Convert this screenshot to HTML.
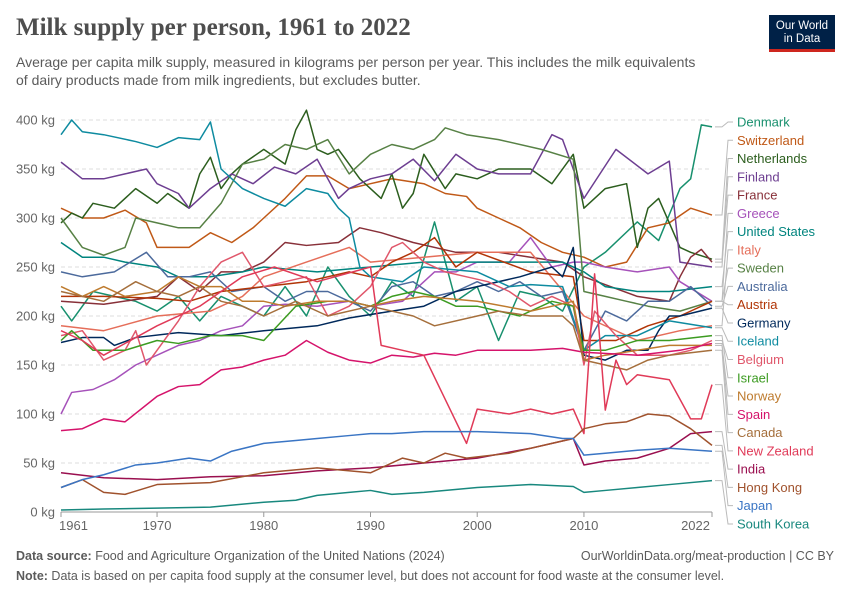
<!DOCTYPE html>
<html><head><meta charset="utf-8"><style>
body{margin:0;background:#fff;font-family:"Liberation Sans",sans-serif;}
#wrap{position:relative;width:850px;height:600px;overflow:hidden;}
.t{position:absolute;white-space:nowrap;}
</style></head><body>
<div id="wrap">
<div class="t" style="left:16px;top:14px;font-family:'Liberation Serif',serif;font-size:25px;color:#4e4e4e;font-weight:bold;">Milk supply per person, 1961 to 2022</div>
<div class="t" style="left:16px;top:53px;font-size:14px;color:#5b5b5b;line-height:18px;">Average per capita milk supply, measured in kilograms per person per year. This includes the milk equivalents<br>of dairy products made from milk ingredients, but excludes butter.</div>
<div style="position:absolute;left:769px;top:15px;width:66px;height:37px;background:#002147;border-bottom:3px solid #ce261e;box-sizing:border-box;color:#fff;font-size:11.5px;line-height:13px;text-align:center;padding-top:5px;">Our World<br>in Data</div>
<svg id="chart" width="850" height="600" style="position:absolute;left:0;top:0"></svg>
<div class="t" style="left:16px;top:549px;font-size:12.5px;color:#5b5b5b;"><b>Data source:</b> Food and Agriculture Organization of the United Nations (2024)</div>
<div class="t" style="right:16px;top:549px;font-size:12.5px;color:#5b5b5b;">OurWorldinData.org/meat-production | CC BY</div>
<div class="t" style="left:16px;top:569px;font-size:12.5px;color:#5b5b5b;"><b>Note:</b> Data is based on per capita food supply at the consumer level, but does not account for food waste at the consumer level.</div>
</div>
<script>
const yTicks=[0,50,100,150,200,250,300,350,400];
const xTicks=[1961,1970,1980,1990,2000,2010,2022];
const seriesNames=["Denmark","Switzerland","Netherlands","Finland","France","Greece","United States","Italy","Sweden","Australia","Austria","Germany","Iceland","Belgium","Israel","Norway","Spain","Canada","New Zealand","India","Hong Kong","Japan","South Korea"];
const denmark=[[1961,210],[1962,195],[1964,225],[1966,220],[1968,215],[1970,205],[1972,220],[1974,195],[1976,220],[1978,210],[1980,200],[1982,230],[1984,200],[1986,250],[1988,220],[1990,200],[1992,235],[1994,220],[1996,296],[1998,215],[2000,230],[2002,175],[2004,225],[2006,220],[2008,205],[2010,250],[2012,265],[2015,296],[2017,277],[2019,330],[2020,340],[2021,395],[2022,393]];
const switzerland=[[1961,310],[1963,300],[1965,300],[1967,308],[1969,295],[1970,270],[1973,270],[1975,285],[1977,275],[1979,290],[1980,300],[1982,320],[1984,343],[1986,343],[1988,330],[1990,335],[1992,340],[1995,335],[1997,325],[1999,322],[2000,310],[2002,300],[2004,290],[2006,275],[2008,265],[2010,260],[2012,250],[2014,255],[2016,290],[2018,295],[2020,310],[2022,303]];
const netherlands=[[1961,295],[1962,305],[1963,300],[1964,315],[1966,310],[1968,330],[1970,315],[1971,325],[1973,310],[1974,345],[1975,362],[1976,330],[1977,345],[1978,355],[1980,370],[1982,355],[1983,390],[1984,410],[1985,370],[1986,365],[1987,370],[1989,340],[1991,320],[1992,345],[1993,310],[1994,325],[1995,365],[1997,330],[1998,345],[2000,340],[2002,350],[2005,350],[2007,335],[2009,365],[2010,310],[2012,330],[2014,335],[2015,270],[2016,310],[2017,320],[2019,270],[2020,265],[2022,258]];
const finland=[[1961,357],[1963,340],[1965,340],[1967,345],[1969,350],[1970,335],[1972,325],[1973,310],[1975,330],[1977,345],[1979,335],[1981,352],[1983,345],[1985,360],[1987,320],[1988,330],[1990,340],[1992,345],[1994,360],[1996,338],[1998,365],[2000,350],[2002,345],[2005,345],[2007,385],[2008,380],[2010,320],[2013,370],[2016,345],[2018,358],[2019,255],[2022,250]];
const france=[[1961,215],[1965,212],[1970,220],[1972,240],[1974,225],[1976,245],[1978,245],[1980,255],[1982,275],[1984,272],[1987,275],[1989,290],[1991,285],[1994,275],[1998,265],[2002,265],[2005,260],[2008,255],[2010,240],[2015,220],[2018,215],[2019,240],[2020,260],[2021,268],[2022,255]];
const greece=[[1961,100],[1962,122],[1964,125],[1966,135],[1968,150],[1970,160],[1972,170],[1974,175],[1976,185],[1978,190],[1980,210],[1982,212],[1985,210],[1988,215],[1990,210],[1993,215],[1996,245],[1998,245],[2000,255],[2003,255],[2005,280],[2007,250],[2009,255],[2010,255],[2012,250],[2015,245],[2018,250],[2019,235],[2022,215]];
const unitedStates=[[1961,275],[1963,260],[1965,260],[1967,255],[1970,250],[1972,240],[1975,240],[1978,245],[1980,250],[1985,245],[1990,250],[1995,255],[2000,255],[2005,255],[2008,255],[2010,245],[2012,230],[2015,225],[2018,225],[2022,230]];
const italy=[[1961,190],[1965,185],[1970,200],[1975,205],[1978,220],[1980,240],[1984,255],[1988,270],[1990,255],[1995,260],[2000,265],[2005,265],[2010,200],[2015,175],[2019,185],[2022,190]];
const sweden=[[1961,300],[1963,270],[1965,262],[1967,270],[1968,300],[1970,295],[1972,290],[1974,290],[1976,315],[1978,355],[1980,360],[1982,375],[1984,370],[1986,380],[1988,345],[1990,365],[1992,375],[1994,370],[1996,380],[1997,392],[1999,385],[2002,380],[2006,370],[2009,360],[2010,225],[2012,220],[2014,215],[2016,210],[2019,205],[2022,215]];
const australia=[[1961,245],[1963,240],[1966,245],[1969,265],[1971,240],[1973,240],[1975,245],[1977,225],[1980,230],[1982,215],[1984,225],[1986,225],[1988,215],[1990,205],[1992,230],[1994,235],[1996,220],[1998,225],[2000,235],[2002,225],[2004,235],[2006,220],[2008,225],[2010,165],[2012,205],[2014,195],[2016,215],[2018,215],[2020,230],[2022,210]];
const austria=[[1961,220],[1965,220],[1970,218],[1973,215],[1976,225],[1980,230],[1984,235],[1988,245],[1990,240],[1992,255],[1994,265],[1996,280],[1998,250],[2000,265],[2005,245],[2009,240],[2010,175],[2013,175],[2016,190],[2019,200],[2022,215]];
const germany=[[1961,173],[1963,178],[1965,178],[1966,170],[1968,178],[1972,183],[1976,180],[1980,185],[1985,190],[1988,198],[1992,205],[1995,210],[1998,225],[2000,230],[2004,240],[2007,250],[2008,240],[2009,270],[2010,160],[2012,155],[2014,165],[2016,165],[2017,185],[2018,200],[2019,200],[2022,208]];
const iceland=[[1961,385],[1962,400],[1963,388],[1965,385],[1968,378],[1970,372],[1972,382],[1974,380],[1975,398],[1976,350],[1978,330],[1980,320],[1982,312],[1984,330],[1986,325],[1987,310],[1988,300],[1989,250],[1990,240],[1993,235],[1995,250],[2000,245],[2003,230],[2005,232],[2008,230],[2010,165],[2012,180],[2015,180],[2018,195],[2022,188]];
const belgium=[[1961,180],[1963,185],[1965,155],[1967,165],[1968,185],[1969,150],[1971,180],[1972,195],[1974,230],[1976,255],[1978,265],[1980,230],[1982,235],[1984,240],[1986,200],[1988,210],[1990,230],[1992,270],[1993,275],[1995,255],[1997,245],[1999,240],[2001,235],[2003,225],[2005,210],[2007,220],[2009,210],[2010,150],[2011,205],[2013,180],[2015,160],[2018,160],[2020,165],[2022,175]];
const israel=[[1961,175],[1962,185],[1964,165],[1967,165],[1970,175],[1972,172],[1975,180],[1978,180],[1980,175],[1983,210],[1986,215],[1988,215],[1990,210],[1992,220],[1994,225],[1996,220],[1998,210],[2000,210],[2004,200],[2007,215],[2009,210],[2010,165],[2012,165],[2015,175],[2018,175],[2022,180]];
const norway=[[1961,230],[1963,220],[1965,230],[1967,220],[1970,225],[1972,240],[1974,230],[1976,230],[1978,215],[1980,215],[1982,210],[1985,215],[1988,215],[1990,210],[1992,215],[1995,220],[2000,215],[2005,205],[2009,215],[2010,155],[2012,160],[2015,165],[2018,170],[2022,170]];
const spain=[[1961,83],[1963,85],[1965,95],[1967,92],[1970,118],[1972,128],[1974,130],[1976,145],[1978,148],[1980,155],[1982,160],[1984,175],[1986,163],[1988,155],[1990,152],[1992,160],[1994,158],[1996,162],[1998,160],[2000,165],[2005,165],[2008,167],[2010,163],[2015,160],[2019,165],[2022,172]];
const canada=[[1961,225],[1963,220],[1965,215],[1968,235],[1970,225],[1972,220],[1974,230],[1976,215],[1978,210],[1980,200],[1983,215],[1986,200],[1990,210],[1994,200],[1996,190],[2000,200],[2002,205],[2005,200],[2008,200],[2009,190],[2010,155],[2012,150],[2014,145],[2016,155],[2018,160],[2022,165]];
const newZealand=[[1961,185],[1963,175],[1965,160],[1970,190],[1974,210],[1978,240],[1981,250],[1985,235],[1990,250],[1991,170],[1993,165],[1995,160],[1997,115],[1999,70],[2000,105],[2003,100],[2005,105],[2007,100],[2009,105],[2010,80],[2011,243],[2012,104],[2013,155],[2014,130],[2015,140],[2018,135],[2020,95],[2021,95],[2022,130]];
const india=[[1961,40],[1965,35],[1970,33],[1975,36],[1980,37],[1985,42],[1990,45],[1995,50],[2000,55],[2005,65],[2009,75],[2010,48],[2012,52],[2015,55],[2018,65],[2020,80],[2022,82]];
const hongKong=[[1961,25],[1963,33],[1965,20],[1967,18],[1970,28],[1975,30],[1980,40],[1985,45],[1990,40],[1993,55],[1995,50],[1997,60],[1999,55],[2003,60],[2007,70],[2009,75],[2010,85],[2012,90],[2014,92],[2016,100],[2018,98],[2020,85],[2022,68]];
const japan=[[1961,25],[1963,33],[1965,38],[1968,48],[1970,50],[1973,55],[1975,52],[1977,62],[1980,70],[1983,73],[1985,75],[1988,78],[1990,80],[1992,80],[1995,82],[2000,82],[2005,80],[2008,75],[2009,75],[2010,58],[2012,60],[2015,63],[2018,65],[2022,62]];
const southKorea=[[1961,2],[1965,3],[1970,4],[1975,5],[1980,10],[1983,12],[1985,17],[1988,20],[1990,22],[1992,18],[1995,20],[2000,25],[2005,28],[2009,26],[2010,20],[2012,22],[2015,25],[2018,28],[2022,32]];
const seriesData=[denmark,switzerland,netherlands,finland,france,greece,unitedStates,italy,sweden,australia,austria,germany,iceland,belgium,israel,norway,spain,canada,newZealand,india,hongKong,japan,southKorea];
const colors=["#18906e","#c05917","#2c5e1e","#6d3e91","#883039","#a652ba","#00847e","#e56e5a","#578145","#4c6a9c","#b13507","#00295b","#0e8ba0","#e0576b","#3c9b21","#be7b2e","#d5136b","#a56f3c","#e03a58","#9a0f4f","#a0522d","#3a75c4","#18887e"];

const svg=document.getElementById('chart');
const NS='http://www.w3.org/2000/svg';
const x0=61,x1=712,y0=512,y1=120;
const xs=v=>x0+(v-1961)/(2022-1961)*(x1-x0);
const ys=v=>y0-v/400*(y0-y1);
function mk(tag,attrs){const e=document.createElementNS(NS,tag);for(const k in attrs)e.setAttribute(k,attrs[k]);svg.appendChild(e);return e;}
yTicks.forEach(t=>{
  const g=mk('line',{x1:x0,x2:x1,y1:ys(t),y2:ys(t),stroke:t===0?'#999':'#ddd','stroke-dasharray':t===0?'':'4,3'});
  
  
  const l=mk('text',{x:55,y:ys(t)+4.5,'text-anchor':'end','font-size':13,fill:'#666','font-family':'Liberation Sans'});
  l.textContent=t+' kg';
  
  
});
xTicks.forEach((t,i)=>{
  const tk=mk('line',{x1:xs(t),x2:xs(t),y1:y0,y2:y0+5,stroke:'#999'});
  
  
  const anchor=i===0?'start':(i===xTicks.length-1?'end':'middle');
  const l=mk('text',{x:xs(t)+(i===0?-2:(i===xTicks.length-1?-2:0)),y:530,'text-anchor':anchor,'font-size':13,fill:'#666','font-family':'Liberation Sans'});
  l.textContent=t;
  
  
});
seriesData.forEach((d,i)=>{
  const p=mk('polyline',{points:d.map(q=>xs(q[0])+','+ys(q[1])).join(' '),fill:'none',stroke:colors[i],'stroke-width':1.5,'stroke-linejoin':'round'});
  
  
  const ly=122+i*18.27;
  const last=d[d.length-1];
  const c=mk('polyline',{points:`${x1+3},${ys(last[1])} ${722},${ys(last[1])} ${728},${ly} ${733},${ly}`,fill:'none',stroke:'#bbb','stroke-width':1});
  
  
  const t=mk('text',{x:737,y:ly+4.5,'font-size':13,fill:colors[i],'font-family':'Liberation Sans'});
  t.textContent=seriesNames[i];
  
  
});
</script>
</body></html>
